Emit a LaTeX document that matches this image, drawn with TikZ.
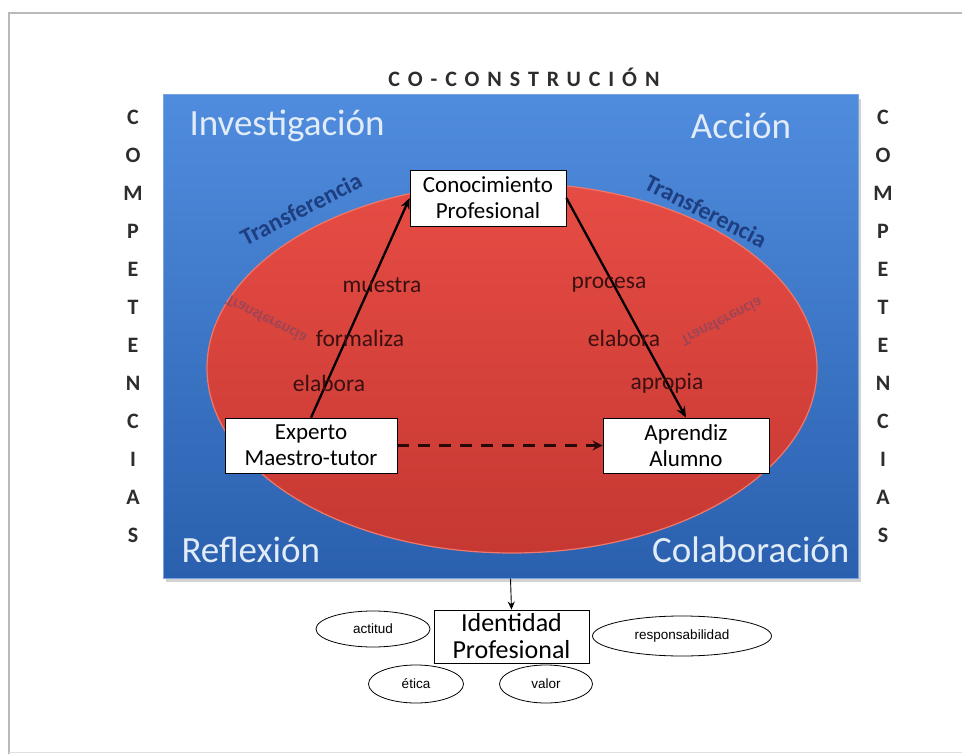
\documentclass[tikz,border=0pt]{standalone}
\usepackage{fontspec}
\setmainfont{Carlito}
\newfontfamily\spaced[LetterSpace=36]{Carlito}
\newfontfamily\arialf{Liberation Sans}
\usetikzlibrary{arrows.meta,shadows,shapes.geometric}
\definecolor{bluetop}{RGB}{80,140,222}
\definecolor{bluebot}{RGB}{42,96,174}
\definecolor{redtop}{RGB}{230,76,68}
\definecolor{redbot}{RGB}{198,56,50}
\definecolor{rededge}{RGB}{238,120,108}
\definecolor{labc}{RGB}{58,16,16}
\definecolor{tblue}{RGB}{30,62,128}
\definecolor{cornerc}{RGB}{226,236,248}
\definecolor{compc}{RGB}{45,45,45}
\tikzset{
  box/.style={draw=black, fill=white, line width=0.8pt, align=center, inner sep=0pt,
    font=\fontsize{23}{26}\selectfont},
  oval/.style={ellipse, draw=black, fill=white, line width=0.8pt, inner sep=0pt,
    font=\arialf\fontsize{13.5}{15}\selectfont},
  lbl/.style={text=labc, font=\fontsize{23.5}{23.5}\selectfont},
  corner/.style={text=cornerc, font=\fontsize{37}{37}\selectfont},
  trans/.style={text=tblue, font=\bfseries\fontsize{24}{24}\selectfont},
  comp/.style={text=compc, font=\bfseries\fontsize{22}{22}\selectfont},
  arr/.style={-{Stealth[length=11pt,width=9pt]}, line width=2.3pt, draw=black},
}
\begin{document}
\begin{tikzpicture}[x=1pt,y=-1pt]
\useasboundingbox (0,0) rectangle (962,754);
\fill[white] (0,0) rectangle (962,754);
% frame
\draw[gray!55, line width=1.6pt] (962,13) -- (9,13) -- (9,754);
\draw[gray!25, line width=1pt] (9,752) -- (962,752);
% title
\node[text=compc, font=\spaced\bfseries\fontsize{22}{22}\selectfont] (title) at (524,77) {CO-CONSTRUCIÓN};
% blue background
\node[minimum width=695pt, minimum height=483pt, inner sep=0pt, top color=bluetop, bottom color=bluebot,
  draw={rgb,255:red,120;green,165;blue,225}, line width=1pt,
  drop shadow={shadow xshift=3pt, shadow yshift=-4pt, opacity=0.35}] (bg) at (510.5,336.5) {};
% red ellipse
\node[ellipse, minimum width=610pt, minimum height=370pt, inner sep=0pt, top color=redtop, bottom color=redbot,
  draw=rededge, line width=1.2pt] (ell) at (512,368) {};
% corner words
\node[corner, anchor=west] (inv) at (186,126) {Investigación};
\node[corner] (acc) at (741,126) {Acción};
\node[corner, anchor=west] (ref) at (178,550) {Reflexión};
\node[corner, anchor=east] (col) at (853,550) {Colaboración};
% Transferencia
\node[trans, rotate=27] (t1) at (301,209) {Transferencia};
\node[trans, rotate=-27] (t2) at (706,211) {Transferencia};
\node[trans, text=tblue!60!redtop, opacity=0.55, yscale=-1, rotate=27, font=\bfseries\fontsize{16}{16}\selectfont] (t3) at (266,320) {Transferencia};
\node[trans, text=tblue!60!redtop, opacity=0.55, yscale=-1, rotate=-27, font=\bfseries\fontsize{16}{16}\selectfont] (t4) at (722,322) {Transferencia};
% COMPETENCIAS
\foreach \ch [count=\i from 0] in {C,O,M,P,E,T,E,N,C,I,A,S} {
  \node[comp] (cl\i) at (133,{117+38*\i}) {\ch};
  \node[comp] (cr\i) at (883,{117+38*\i}) {\ch};
}
% boxes
\node[box, minimum width=156pt, minimum height=56pt] (con) at (488,198) {Conocimiento\\Profesional};
\node[box, minimum width=172pt, minimum height=55pt] (exp) at (311,445.5) {Experto\\Maestro-tutor};
\node[box, minimum width=166pt, minimum height=55pt] (apr) at (686,445.5) {Aprendiz\\Alumno};
% arrows
\draw[arr] (exp.north) -- (con.west);
\draw[arr] (con.east) -- (apr.north);
\draw[-{Stealth[length=10pt,width=10pt]}, line width=2.8pt, draw={rgb,255:red,40;green,8;blue,8},
  dash pattern=on 12pt off 9pt] (exp.east) -- (apr.west);
% labels
\node[lbl] (m1) at (382,285) {muestra};
\node[lbl] (m2) at (360,338) {formaliza};
\node[lbl] (m3) at (329,383) {elabora};
\node[lbl] (n1) at (609,285) {procesa};
\node[lbl] (n2) at (624,338) {elabora};
\node[lbl] (n3) at (667,383) {apropia};
% identidad
\node[box, minimum width=155pt, minimum height=53pt, font=\fontsize{26}{27}\selectfont] (idp) at (511.5,636.5) {Identidad\\Profesional};
\draw[-{Stealth[length=8pt,width=7pt]}, line width=0.9pt] (bg.south) -- (idp.north);
% ovals
\node[oval, minimum width=114pt, minimum height=36pt] (o1) at (373,629) {actitud};
\node[oval, minimum width=179pt, minimum height=40pt] (o2) at (682,636) {responsabilidad};
\node[oval, minimum width=95pt, minimum height=38pt] (o3) at (416,684) {ética};
\node[oval, minimum width=93pt, minimum height=38pt] (o4) at (546,684) {valor};
\end{tikzpicture}
\end{document}
